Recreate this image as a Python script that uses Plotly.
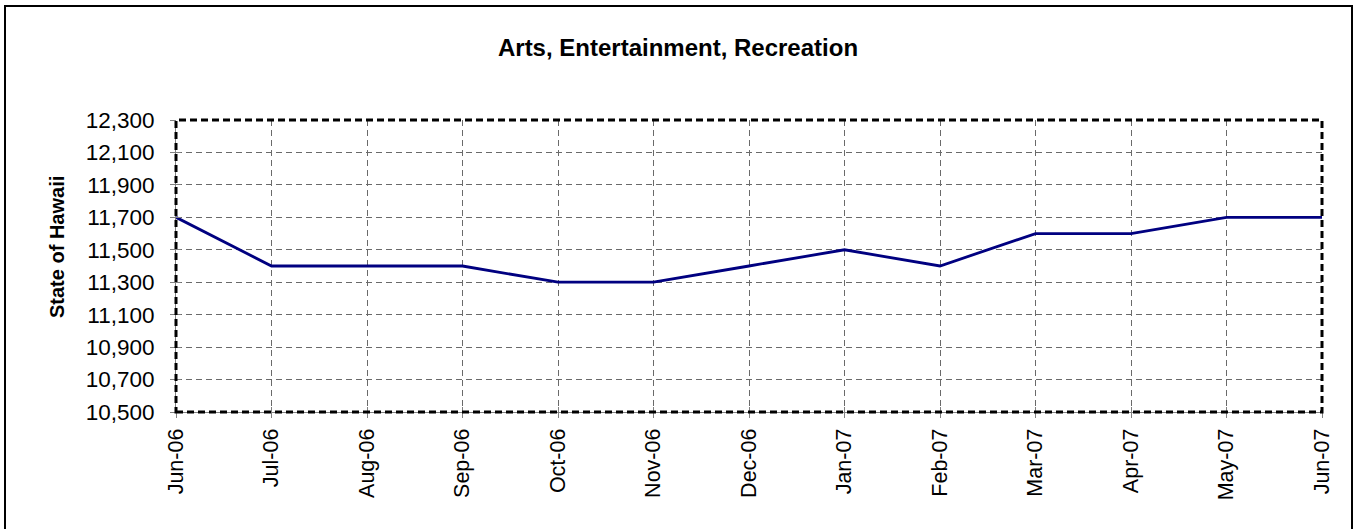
import plotly.graph_objects as go

months = ["Jun-06", "Jul-06", "Aug-06", "Sep-06", "Oct-06", "Nov-06", "Dec-06",
          "Jan-07", "Feb-07", "Mar-07", "Apr-07", "May-07", "Jun-07"]
values = [11700, 11400, 11400, 11400, 11300, 11300, 11400,
          11500, 11400, 11600, 11600, 11700, 11700]
y_ticks = [10500, 10700, 10900, 11100, 11300, 11500, 11700, 11900, 12100, 12300]

title_text = "Arts, Entertainment, Recreation"
y_title = "State of Hawaii"

FONT = "Arial, 'Liberation Sans', sans-serif"
W, H = 1361, 529
L, R, T, B = 176, 1322, 120, 412

fig = go.Figure()
fig.add_trace(go.Scatter(x=months, y=values, mode="lines",
                         line=dict(color="#000080", width=2.8),
                         showlegend=False, hoverinfo="skip"))
# invisible trace to hold overlay axes (for crossing tick marks)
fig.add_trace(go.Scatter(x=months, y=values, mode="lines", xaxis="x2", yaxis="y2",
                         line=dict(color="rgba(0,0,0,0)", width=0),
                         showlegend=False, hoverinfo="skip"))

grid = dict(showgrid=True, gridcolor="#6a6a6a", gridwidth=1, griddash="6px,4px")

fig.update_layout(
    width=W, height=H,
    margin=dict(l=L, r=W - R, t=T, b=H - B, pad=0),
    paper_bgcolor="white", plot_bgcolor="white",
    font=dict(family=FONT, color="black"),
    hovermode=False,
    title=dict(text="<b>" + title_text + "</b>", font=dict(size=24, family=FONT),
               x=(678 - L) / (R - L), xref="paper", xanchor="center",
               y=1 - 48 / H, yref="container", yanchor="middle"),
    xaxis=dict(type="category", categoryorder="array", categoryarray=months,
               range=[0, len(months) - 1], tickmode="array", tickvals=months,
               ticktext=months, tickangle=-90, tickfont=dict(size=21.5, family=FONT),
               ticks="outside", ticklen=5, tickcolor="#808080", tickwidth=1,
               ticklabelstandoff=2,
               showline=True, linecolor="#808080", linewidth=1, zeroline=False, **grid),
    yaxis=dict(range=[y_ticks[0], y_ticks[-1]], tickmode="array", tickvals=y_ticks,
               tickformat=",", tickfont=dict(size=22.5, family=FONT),
               ticks="outside", ticklen=5, tickcolor="#808080", tickwidth=1,
               ticklabelstandoff=11,
               showline=True, linecolor="#808080", linewidth=1, zeroline=False, **grid),
    xaxis2=dict(type="category", categoryorder="array", categoryarray=months,
                range=[0, len(months) - 1], overlaying="x", side="bottom",
                tickmode="array", tickvals=months, showticklabels=False,
                ticks="inside", ticklen=5, tickcolor="#808080", tickwidth=1,
                showgrid=False, zeroline=False, showline=False),
    yaxis2=dict(range=[y_ticks[0], y_ticks[-1]], overlaying="y", side="left",
                tickmode="array", tickvals=y_ticks, showticklabels=False,
                ticks="inside", ticklen=5, tickcolor="#808080", tickwidth=1,
                showgrid=False, zeroline=False, showline=False),
    shapes=[
        # plot area dashed border
        dict(type="rect", xref="paper", yref="paper", x0=0, x1=1, y0=0, y1=1,
             line=dict(color="black", width=3, dash="7px,4px"), layer="above"),
        # outer chart border
        dict(type="rect", xref="paper", yref="paper",
             x0=(5 - L) / (R - L), x1=(1352 - L) / (R - L),
             y0=(B - 545) / (B - T), y1=(B - 6) / (B - T),
             line=dict(color="black", width=2), layer="above"),
    ],
    annotations=[
        dict(text="<b>" + y_title + "</b>", textangle=-90, showarrow=False,
             xref="paper", yref="paper",
             x=(57 - L) / (R - L), y=(B - 247) / (B - T),
             xanchor="center", yanchor="middle",
             font=dict(size=20, family=FONT, color="black")),
    ],
)

fig.write_html("out.html", config={"displayModeBar": False, "staticPlot": True},
               post_script="document.body.style.margin='0';document.body.style.overflow='hidden';")
